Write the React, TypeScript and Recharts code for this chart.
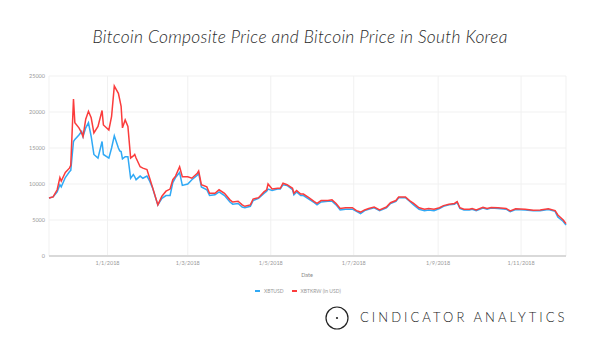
import { LineChart, Line, XAxis, YAxis, CartesianGrid } from 'recharts'

const dates = [
  '2017-11-19', '2017-11-22', '2017-11-25', '2017-11-27', '2017-11-28', '2017-12-01', '2017-12-04', '2017-12-05',
  '2017-12-07', '2017-12-08', '2017-12-11', '2017-12-13', '2017-12-14', '2017-12-16', '2017-12-18', '2017-12-20',
  '2017-12-22', '2017-12-25', '2017-12-28', '2017-12-29', '2018-01-02', '2018-01-04', '2018-01-06', '2018-01-09',
  '2018-01-10', '2018-01-11', '2018-01-12', '2018-01-14', '2018-01-16', '2018-01-18', '2018-01-20', '2018-01-21',
  '2018-01-22', '2018-01-25', '2018-01-27', '2018-01-30', '2018-02-01', '2018-02-03', '2018-02-07', '2018-02-10',
  '2018-02-13', '2018-02-16', '2018-02-18', '2018-02-20', '2018-02-23', '2018-02-25', '2018-03-01', '2018-03-04',
  '2018-03-08', '2018-03-09', '2018-03-11', '2018-03-15', '2018-03-17', '2018-03-21', '2018-03-24', '2018-03-28',
  '2018-04-01', '2018-04-03', '2018-04-07', '2018-04-10', '2018-04-12', '2018-04-16', '2018-04-18', '2018-04-22',
  '2018-04-26', '2018-04-28', '2018-04-29', '2018-05-02', '2018-05-06', '2018-05-08', '2018-05-10', '2018-05-13',
  '2018-05-17', '2018-05-18', '2018-05-20', '2018-05-23', '2018-05-25', '2018-05-29', '2018-06-02', '2018-06-04',
  '2018-06-07', '2018-06-12', '2018-06-15', '2018-06-18', '2018-06-21', '2018-06-25', '2018-06-30', '2018-07-03',
  '2018-07-06', '2018-07-09', '2018-07-12', '2018-07-16', '2018-07-20', '2018-07-25', '2018-07-28', '2018-08-01',
  '2018-08-03', '2018-08-06', '2018-08-08', '2018-08-11', '2018-08-14', '2018-08-18', '2018-08-22', '2018-08-25',
  '2018-08-29', '2018-09-02', '2018-09-05', '2018-09-09', '2018-09-13', '2018-09-15', '2018-09-17', '2018-09-20',
  '2018-09-24', '2018-09-26', '2018-09-29', '2018-10-04', '2018-10-07', '2018-10-10', '2018-10-15', '2018-10-21',
  '2018-10-24', '2018-10-28', '2018-11-04', '2018-11-10', '2018-11-15', '2018-11-21', '2018-11-26', '2018-11-28',
  '2018-12-02', '2018-12-04',
]

const xbtUsd = [
  8050, 8200, 8900, 9900, 9600, 10900, 11700, 11900,
  15900, 16200, 16800, 17300, 16600, 17800, 18500, 16600,
  14100, 13600, 15900, 14100, 13600, 15000, 16700, 15000,
  14600, 14500, 13500, 13800, 13800, 10800, 11300, 11000,
  10600, 11100, 10800, 11100, 10400, 9500, 7100, 8000,
  8400, 8400, 10200, 10900, 11600, 9800, 10000, 10600,
  11200, 11500, 9600, 9200, 8400, 8500, 8900, 8400,
  7500, 7200, 7300, 6800, 6700, 6900, 7700, 8000,
  8700, 9000, 9300, 9100, 9300, 9300, 9900, 9800,
  9200, 8500, 8900, 8400, 8400, 7900, 7400, 7100,
  7500, 7600, 7600, 7100, 6400, 6500, 6500, 6200,
  5900, 6300, 6500, 6700, 6300, 6700, 7300, 7600,
  8100, 8100, 8100, 7600, 7100, 6500, 6300, 6400,
  6300, 6600, 6900, 7100, 7200, 7450, 6600, 6400,
  6400, 6500, 6300, 6650, 6500, 6650, 6600, 6500,
  6150, 6450, 6400, 6300, 6300, 6450, 6200, 5400,
  4800, 4300,
]

const xbtKrw = [
  8050, 8200, 9200, 10900, 10400, 11600, 12200, 12600,
  21800, 18500, 17800, 17100, 16600, 19000, 20100, 19200,
  17100, 18000, 20200, 18200, 17500, 19400, 23600, 22600,
  21700, 20800, 17800, 18900, 18000, 13600, 13900, 14100,
  13600, 12400, 12200, 12000, 10800, 9600, 7100, 8300,
  9000, 9300, 10600, 11100, 12400, 11000, 11000, 10800,
  11500, 11800, 9900, 9600, 8700, 8700, 9200, 8700,
  7800, 7500, 7600, 7100, 6900, 7100, 7900, 8100,
  8900, 9200, 10000, 9300, 9400, 9400, 10100, 9900,
  9400, 8700, 9100, 8600, 8600, 8100, 7550, 7300,
  7700, 7700, 7800, 7300, 6600, 6700, 6700, 6300,
  6100, 6400, 6600, 6800, 6400, 6800, 7400, 7700,
  8200, 8200, 8200, 7700, 7300, 6700, 6500, 6600,
  6500, 6700, 7000, 7200, 7300, 7550, 6700, 6500,
  6500, 6600, 6400, 6750, 6600, 6750, 6700, 6600,
  6250, 6550, 6500, 6350, 6400, 6550, 6300, 5700,
  5000, 4500,
]

const yTicks = [0, 5000, 10000, 15000, 20000, 25000]
const xTickDates = ['2018-01-01', '2018-03-01', '2018-05-01', '2018-07-01', '2018-09-01', '2018-11-01']

const toTime = (s: string) => {
  const [y, m, d] = s.split('-').map(Number)
  return Date.UTC(y, m - 1, d)
}

const formatDate = (t: number) => {
  const d = new Date(t)
  return `${d.getUTCDate()}/${d.getUTCMonth() + 1}/${d.getUTCFullYear()}`
}

const chartData = dates.map((d, i) => ({ time: toTime(d), usd: xbtUsd[i], krw: xbtKrw[i] }))
const xTicks = xTickDates.map(toTime)

const BLUE = '#30a9f5'
const RED = '#fb3c3c'
const FONT = 'Lato, "Open Sans", sans-serif'

export default function App() {
  return (
    <div style={{ position: 'absolute', left: 0, top: 0, width: 600, height: 354, background: '#fff', fontFamily: FONT }}>
      <div
        style={{
          position: 'absolute', top: 26, left: 0, width: 600, textAlign: 'center',
          fontSize: 17.4, fontStyle: 'italic', fontWeight: 300, color: '#2b2b2b', letterSpacing: 0.3,
        }}
      >
        Bitcoin Composite Price and Bitcoin Price in South Korea
      </div>

      <LineChart width={600} height={354} data={chartData} margin={{ top: 76, right: 34, bottom: 78, left: 0 }}>
        <CartesianGrid stroke="#f1f1f1" />
        <XAxis
          dataKey="time"
          type="number"
          domain={['dataMin', 'dataMax']}
          ticks={xTicks}
          tickFormatter={formatDate}
          height={20}
          axisLine={{ stroke: '#d9d9d9', strokeWidth: 2 }}
          tickLine={false}
          tickSize={0}
          tickMargin={5}
          tick={{ fill: '#9a9a9a', fontSize: 5.5, fontFamily: FONT }}
        />
        <YAxis
          domain={[0, 25000]}
          ticks={yTicks}
          width={49}
          axisLine={false}
          tickLine={false}
          tickSize={0}
          tickMargin={4}
          tick={{ fill: '#9a9a9a', fontSize: 5.5, fontFamily: FONT }}
        />
        <Line type="linear" dataKey="usd" stroke={BLUE} strokeWidth={1.5} dot={false} isAnimationActive={false} />
        <Line type="linear" dataKey="krw" stroke={RED} strokeWidth={1.5} dot={false} isAnimationActive={false} />
      </LineChart>

      <div style={{ position: 'absolute', top: 272, left: 307, transform: 'translateX(-50%)', fontSize: 5.5, color: '#888' }}>
        Date
      </div>

      <div style={{ position: 'absolute', top: 288, left: 255, display: 'flex', alignItems: 'center', fontSize: 5, color: '#999' }}>
        <span style={{ display: 'inline-block', width: 5, height: 2, background: BLUE, marginRight: 4 }} />
        <span style={{ marginRight: 8 }}>XBTUSD</span>
        <span style={{ display: 'inline-block', width: 5, height: 2, background: RED, marginRight: 4 }} />
        <span>XBTKRW (in USD)</span>
      </div>

      <svg style={{ position: 'absolute', left: 324, top: 305 }} width={26} height={26}>
        <circle cx={13} cy={13} r={11} fill="none" stroke="#222" strokeWidth={1.2} />
        <circle cx={13} cy={13} r={1.1} fill="#222" />
      </svg>
      <div
        style={{
          position: 'absolute', top: 309, left: 360, fontSize: 13, fontWeight: 300,
          letterSpacing: 3.05, color: '#222', whiteSpace: 'nowrap',
        }}
      >
        CINDICATOR ANALYTICS
      </div>
    </div>
  )
}
